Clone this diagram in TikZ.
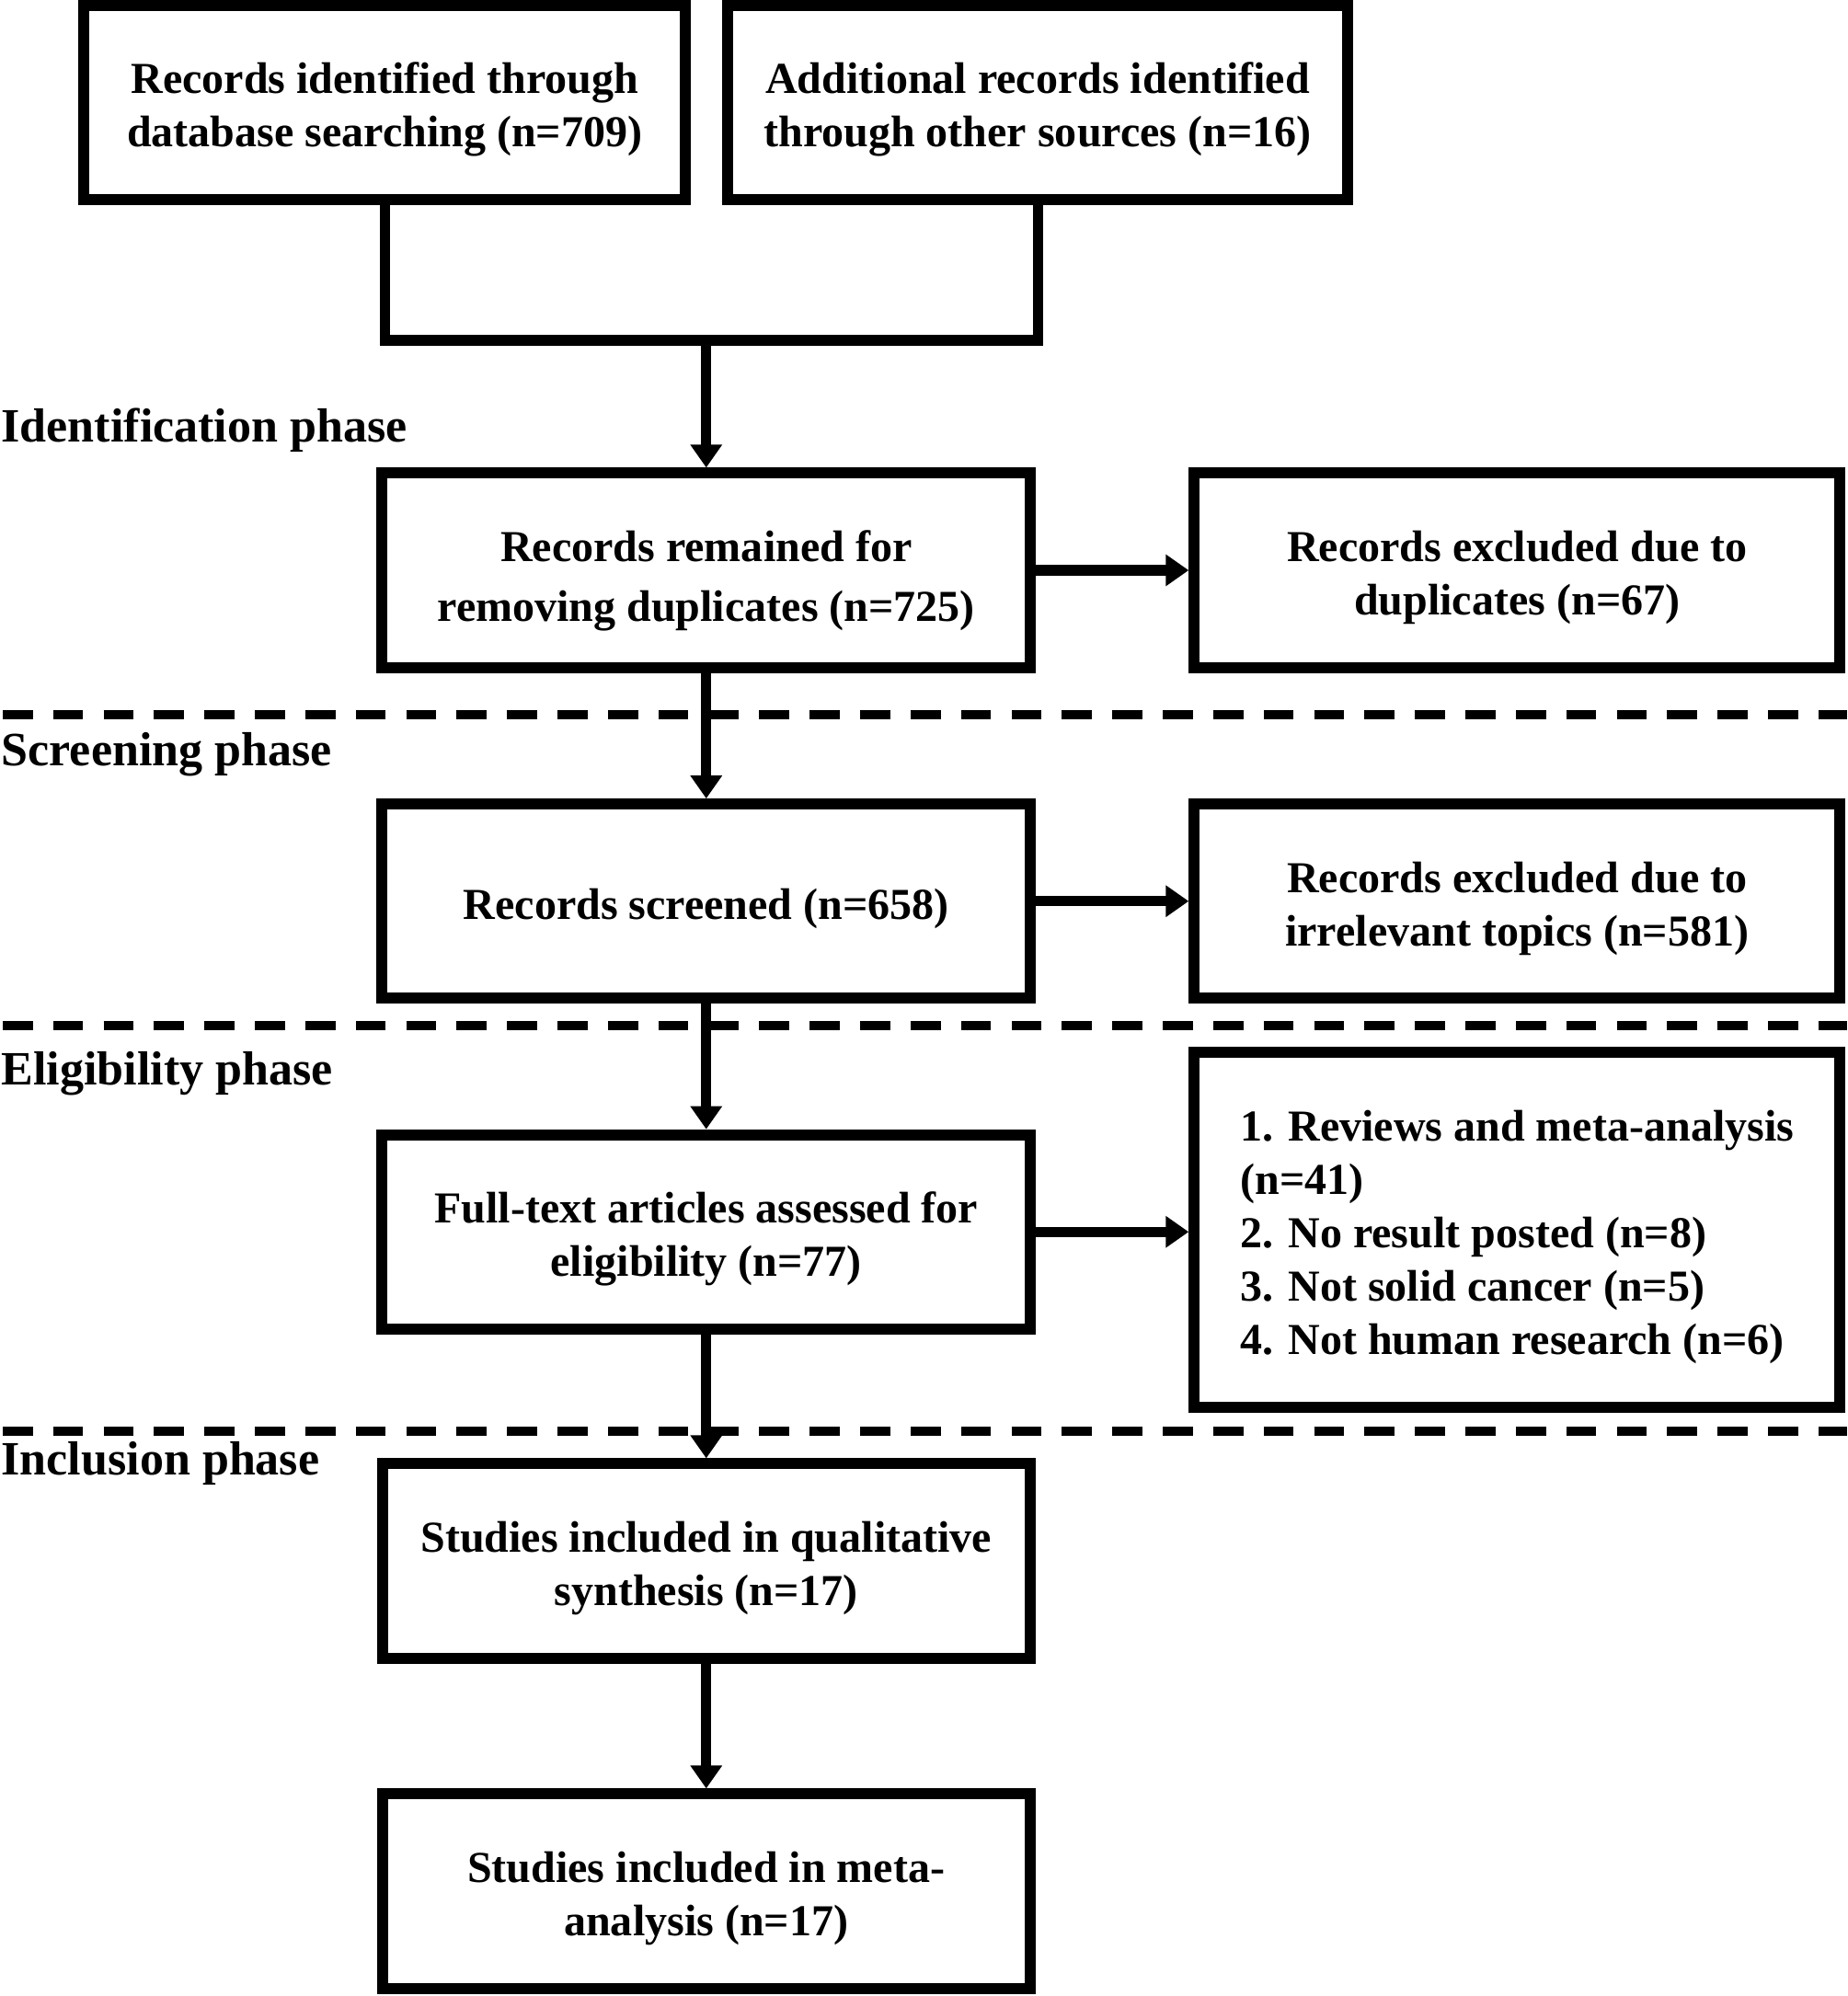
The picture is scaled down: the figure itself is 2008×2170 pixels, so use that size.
\documentclass[tikz,border=0pt]{standalone}
\usepackage{fontspec}
\setmainfont{Liberation Serif}
\usetikzlibrary{arrows.meta}
\newcommand\myboxfont{\fontsize{13.66pt}{16.5pt}\selectfont\bfseries}
\newcommand\mylblfont{\fontsize{14.8pt}{18pt}\selectfont\bfseries}
\newcommand\mytopstrut{\rule{0pt}{14pt}}
\begin{document}
\begin{tikzpicture}[x=0.01cm,y=-0.01cm,
  box/.style={draw, line width=0.12cm, line join=miter, inner sep=0pt,
    align=center, font=\myboxfont, minimum height=2.11cm},
  lbl/.style={inner sep=0pt, anchor=base west, font=\mylblfont},
  conn/.style={line width=0.11cm, line join=miter},
  arr/.style={line width=0.11cm, -{Triangle[length=0.25cm,width=0.33cm]}},
  dashline/.style={line width=0.1cm, dash pattern=on 0.325cm off 0.223cm}]
\fill[white] (0,0) rectangle (2008,2170);
\useasboundingbox (0,0) rectangle (2008,2170);
% dashed phase separators
\draw[dashline] (3,777) -- (2008,777);
\draw[dashline] (3,1114.5) -- (2008,1114.5);
\draw[dashline] (3,1556) -- (2008,1556);
% phase labels
\node[lbl] (lid) at (1,480) {Identification phase};
\node[lbl] (lsc) at (1,832) {Screening phase};
\node[lbl] (lel) at (1,1179) {Eligibility phase};
\node[lbl] (lin) at (1,1603) {Inclusion phase};
% boxes
\node[box, minimum width=6.535cm] (b1) at (418.25,111.5)
  {\mytopstrut Records identified through\\database searching (n=709)};
\node[box, minimum width=6.74cm] (b2) at (1128,111.5)
  {\mytopstrut Additional records identified\\through other sources (n=16)};
\node[box, minimum width=7.045cm, font={\fontsize{13.66pt}{18.5pt}\selectfont\bfseries}] (b3) at (767.75,620)
  {\rule{0pt}{16pt}Records remained for\\removing duplicates (n=725)};
\node[box, minimum width=7.015cm] (b4) at (1649.25,620)
  {\mytopstrut Records excluded due to\\duplicates (n=67)};
\node[box, minimum width=7.045cm] (b5) at (767.75,979.75)
  {\mytopstrut Records screened (n=658)};
\node[box, minimum width=7.015cm] (b6) at (1649.25,979.75)
  {\mytopstrut Records excluded due to\\irrelevant topics (n=581)};
\node[box, minimum width=7.045cm] (b7) at (767.75,1339.25)
  {\mytopstrut Full-text articles assessed for\\eligibility (n=77)};
\node[box, minimum width=7.015cm, minimum height=3.86cm, align=left] (b8) at (1649.25,1337)
  {\mytopstrut 1. Reviews and meta-analysis\\(n=41)\\2. No result posted (n=8)\\3. Not solid cancer (n=5)\\4. Not human research (n=6)};
\node[box, minimum width=7.035cm] (b9) at (767.75,1697)
  {\mytopstrut Studies included in qualitative\\synthesis (n=17)};
\node[box, minimum width=7.035cm] (b10) at (767.75,2056)
  {\mytopstrut Studies included in meta-\\analysis (n=17)};
% connectors
\coordinate (j) at (767.75,370);
\draw[conn] (b1.south) |- (j) -| (b2.south);
\draw[arr] (j) -- (b3.north);
\draw[arr] (b3.east) -- (b4.west);
\draw[arr] (b3.south) -- (b5.north);
\draw[arr] (b5.east) -- (b6.west);
\draw[arr] (b5.south) -- (b7.north);
\draw[arr] (b7.east) -- (b7.east -| b8.west);
\draw[arr] (b7.south) -- (b9.north);
\draw[arr] (b9.south) -- (b10.north);
\end{tikzpicture}
\end{document}
